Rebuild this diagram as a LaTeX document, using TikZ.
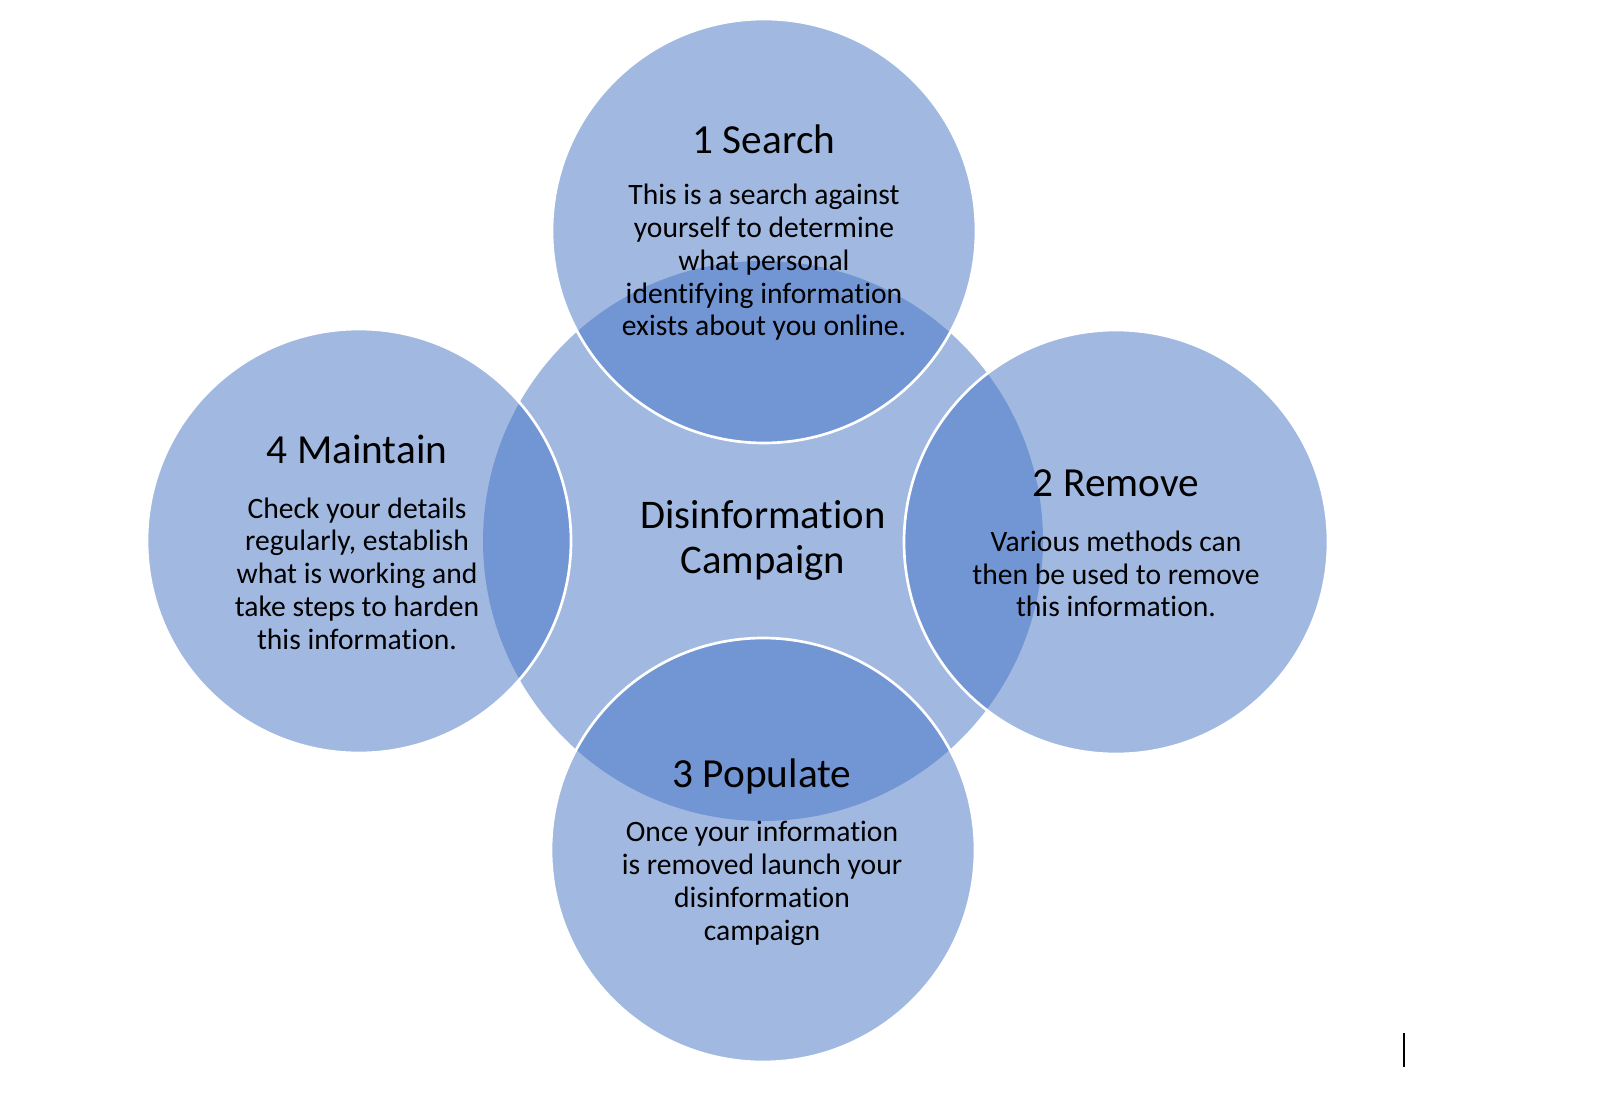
\documentclass[tikz,border=0pt]{standalone}
\usepackage{fontspec}
\setmainfont{Carlito}[Ligatures=NoCommon]
\usepackage{tikz}
\definecolor{petalblue}{HTML}{4472C4}
\tikzset{
  petal/.style={fill=petalblue, fill opacity=0.5, draw=white, line width=2pt},
  hub/.style={fill=petalblue, fill opacity=0.5, draw=none},
  steptitle/.style={font=\fontsize{31}{35}\selectfont, align=center},
  stepbody/.style={font=\fontsize{22.2}{24.6}\selectfont, align=center},
  hubtext/.style={font=\fontsize{30.5}{33.75}\selectfont, align=center}
}

\begin{document}
\begin{tikzpicture}[x=0.75pt,y=0.75pt,yscale=-1,xscale=1]
\path[use as bounding box] (0,0) rectangle (1600,1095);

%Shape: Circle (centre)
\draw [hub] (763,541) circle (280);
%Shape: Circle (search)
\draw [petal] (764,231) circle (212);
%Shape: Circle (remove)
\draw [petal] (1116,542) circle (212);
%Shape: Circle (populate)
\draw [petal] (763,850) circle (212);
%Shape: Circle (maintain)
\draw [petal] (359,541) circle (212);

% Text Node
\node [hubtext] (hub) at (763,541) {Disinformation\\Campaign};
% Text Node
\node [steptitle] (searchT) at (764,139) {1 Search};
\node [stepbody] (searchB) at (764,262.5) {This is a search against\\yourself to determine\\what personal\\identifying information\\exists about you online.};
% Text Node
\node [steptitle] (removeT) at (1116,483) {2 Remove};
\node [stepbody] (removeB) at (1116,574) {Various methods can\\then be used to remove\\this information.};
% Text Node
\node [steptitle] (populateT) at (762,776) {3 Populate};
\node [stepbody] (populateB) at (762,883.5) {Once your information\\is removed launch your\\disinformation\\campaign};
% Text Node
\node [steptitle] (maintainT) at (357,449) {4 Maintain};
\node [stepbody] (maintainB) at (357,573.5) {Check your details\\regularly, establish\\what is working and\\take steps to harden\\this information.};

%Straight Lines (cursor)
\draw [line width=1.5pt] (1404,1033) -- (1404,1067);

\end{tikzpicture}
\end{document}
